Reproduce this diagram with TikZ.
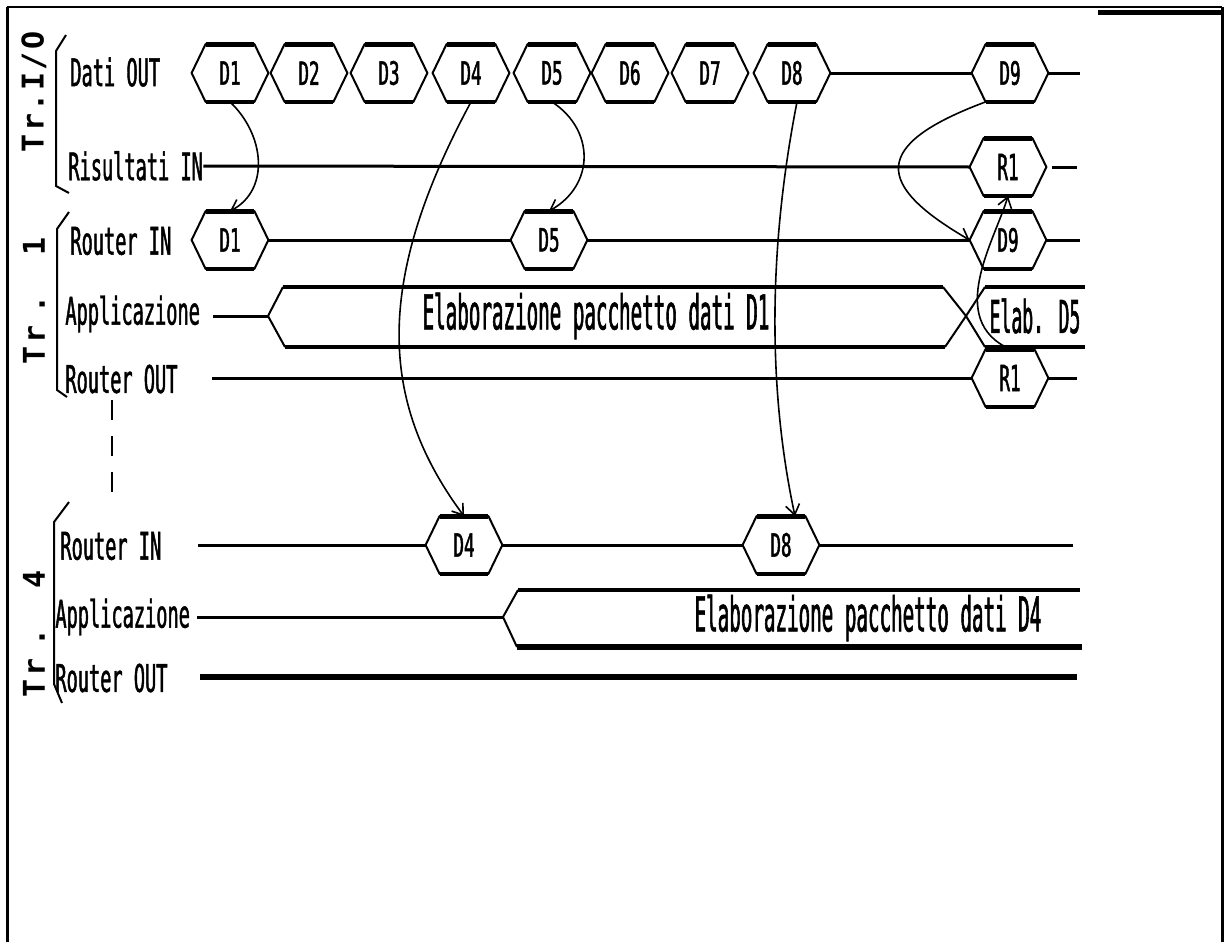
\documentclass[tikz,border=0pt]{standalone}
\usepackage{fontspec}
\setmainfont{DejaVu Sans Mono}
\newfontfamily\lblfont[FakeStretch=0.49,FakeBold=1.2]{DejaVu Sans Mono}
\newfontfamily\bandfont[FakeStretch=0.40,FakeBold=1.2]{DejaVu Sans Mono}
\newfontfamily\hexfont[FakeStretch=0.55,FakeBold=1.5]{DejaVu Sans Mono}
\newfontfamily\trfont[LetterSpace=8]{DejaVu Sans Mono}
\usetikzlibrary{arrows.meta}
\tikzset{
  rowlab/.style={anchor=west,inner sep=0pt,font=\lblfont\fontsize{19}{20}\selectfont},
  hexlab/.style={minimum width=24pt,minimum height=28.5pt,inner sep=0pt,font=\hexfont\fontsize{16}{17}\selectfont},
  hexlabR/.style={hexlab,font=\lblfont\fontsize{18}{19}\selectfont},
  hexline/.style={line width=1pt,line join=round},
  hexbold/.style={line width=2.4pt},
  sig/.style={line width=1.5pt},
  bandedge/.style={line width=2pt},
  bandslant/.style={line width=1pt},
  bandtxt/.style={inner sep=0pt,font=\bandfont\fontsize{24}{25}\selectfont},
  trlab/.style={rotate=90,inner sep=0pt,font=\trfont\bfseries\fontsize{15}{16}\selectfont},
  brace/.style={line width=1pt},
  arr/.style={line width=0.8pt,-{Straight Barb[length=5pt,width=7pt]}},
}
\newcommand{\hexbox}[5][hexlab]{%
  \node[#1] (#2) at (#3,#4) {#5};
  \draw[hexline] ([xshift=-7pt]#2.west) -- (#2.north west) -- (#2.north east) -- ([xshift=7pt]#2.east) -- (#2.south east) -- (#2.south west) -- cycle;
  \draw[hexbold] (#2.north west) -- (#2.north east) (#2.south west) -- (#2.south east);
  \coordinate (#2-l) at ([xshift=-7pt]#2.west);
  \coordinate (#2-r) at ([xshift=7pt]#2.east);
}
\begin{document}
\begin{tikzpicture}[x=0.5pt,y=-0.5pt]
\useasboundingbox (0,0) rectangle (1232,942);
% frame
\draw[line width=1.5pt] (7,942) -- (7,7);
\draw[line width=1pt] (7,7) -- (1222,7);
\draw[line width=1.5pt] (1222,7) -- (1222,942);
\draw[line width=2.5pt] (1098,12) -- (1222,12);

% vertical group labels
\node[trlab] (tr0) at (34,92) {Tr.I/O};
\node[trlab] (tr1) at (34,301) {Tr\hspace{6pt}.\hspace{20pt}1};
\node[trlab] (tr4) at (34,634) {Tr\hspace{6pt}.\hspace{20pt}4};

% braces
\draw[brace] (66,35) -- (56,51) -- (56,186) -- (69,193);
\draw[brace] (69,212) -- (57,229) -- (57,390) -- (67,397);
\draw[brace] (69,502) -- (54,522) -- (54,684) -- (62,703);
\draw[line width=1.2pt,dash pattern=on 10pt off 8pt] (112,400) -- (112,497);

% row labels
\node[rowlab] (l1) at (70,72) {Dati OUT};
\node[rowlab] (l2) at (68,166) {Risultati IN};
\node[rowlab] (l3) at (70,241) {Router IN};
\node[rowlab] (l4) at (65,314) {Applicazione};
\node[rowlab] (l5) at (65,379) {Router OUT};
\node[rowlab] (l6) at (60,546) {Router IN};
\node[rowlab] (l7) at (55,617) {Applicazione};
\node[rowlab] (l8) at (55,678) {Router OUT};

% Dati OUT
\hexbox{d1o}{230}{73}{D1}
\hexbox{d2o}{309}{73}{D2}
\hexbox{d3o}{389}{73}{D3}
\hexbox{d4o}{471}{73}{D4}
\hexbox{d5o}{552}{73}{D5}
\hexbox{d6o}{630}{73}{D6}
\hexbox{d7o}{710}{73}{D7}
\hexbox{d8o}{792}{73}{D8}
\hexbox{d9o}{1010}{73}{D9}
\coordinate (e1) at (1080,73);
\draw[sig] (d8o-r) -- (d9o-l);
\draw[sig] (d9o-r) -- (e1);

% Risultati IN
\hexbox[hexlabR]{r1i}{1008}{167}{R1}
\coordinate (e2) at (1077,167);
\draw[sig] (l2.east) -- (r1i-l);
\draw[sig] ([xshift=3pt]r1i-r) -- (e2);

% Router IN Tr.1
\hexbox{d1r}{230}{240}{D1}
\hexbox{d5r}{549}{240}{D5}
\hexbox{d9r}{1008}{240}{D9}
\coordinate (e3) at (1080,240);
\draw[sig] (d1r-r) -- (d5r-l);
\draw[sig] (d5r-r) -- (d9r-l);
\draw[sig] (d9r-r) -- (e3);

% Applicazione Tr.1
\coordinate (s4) at (213,316);
\coordinate (t4) at (268,316);
\draw[sig] (s4) -- (t4);
\draw[bandslant] (283,287) -- (t4) -- (285,347);
\draw[bandedge] (283,287) -- (943,287);
\draw[bandedge] (285,347) -- (945,347);
\draw[bandslant] (943,287) -- (966,316) -- (945,347);
\draw[bandslant] (985,287) -- (966,316) -- (985,347);
\draw[bandedge] (985,287) -- (1085,287);
\draw[bandedge] (985,347) -- (1085,347);
\node[bandtxt] (b1) at (596,316) {Elaborazione pacchetto dati D1};
\node[bandtxt,font=\bandfont\fontsize{22.6}{23}\selectfont] (b2) at (1035,316) {Elab. D5};

% Router OUT Tr.1
\hexbox[hexlabR]{r1o}{1010}{378}{R1}
\coordinate (s5) at (212,378);
\coordinate (e5) at (1077,378);
\draw[sig] (s5) -- (r1o-l);
\draw[sig] (r1o-r) -- (e5);

% Router IN Tr.4
\hexbox{d4b}{464}{545}{D4}
\hexbox{d8b}{781}{545}{D8}
\coordinate (s6) at (198,545);
\coordinate (e6) at (1073,545);
\draw[sig] (s6) -- (d4b-l);
\draw[sig] (d4b-r) -- (d8b-l);
\draw[sig] (d8b-r) -- (e6);

% Applicazione Tr.4
\coordinate (s7) at (197,617);
\coordinate (t7) at (503,617);
\draw[sig] (s7) -- (t7);
\draw[bandslant] (518,590) -- (t7) -- (517,647);
\draw[bandedge] (518,590) -- (1080,590);
\draw[line width=2.8pt] (517,647) -- (1082,647);
\node[bandtxt] (b3) at (868,618) {Elaborazione pacchetto dati D4};

% Router OUT Tr.4
\coordinate (s8) at (200,677);
\coordinate (e8) at (1077,677);
\draw[line width=2.6pt] (s8) -- (e8);

% arrows
\draw[arr] (d1o.south) .. controls (265,135) and (270,190) .. (d1r.north);
\draw[arr] (d5o.south) .. controls (595,130) and (595,185) .. (d5r.north);
\draw[arr] (d4o.south) .. controls (375,280) and (378,400) .. (d4b.north);
\draw[arr] ([xshift=2.5pt]d8o.south) .. controls (768,250) and (768,390) .. ([xshift=7pt]d8b.north);
\draw[arr] (d9o.south west) .. controls (870,145) and (875,185) .. (d9r-l);
\draw[arr] (r1o.north) .. controls (945,320) and (995,240) .. (r1i.south);
\end{tikzpicture}
\end{document}
